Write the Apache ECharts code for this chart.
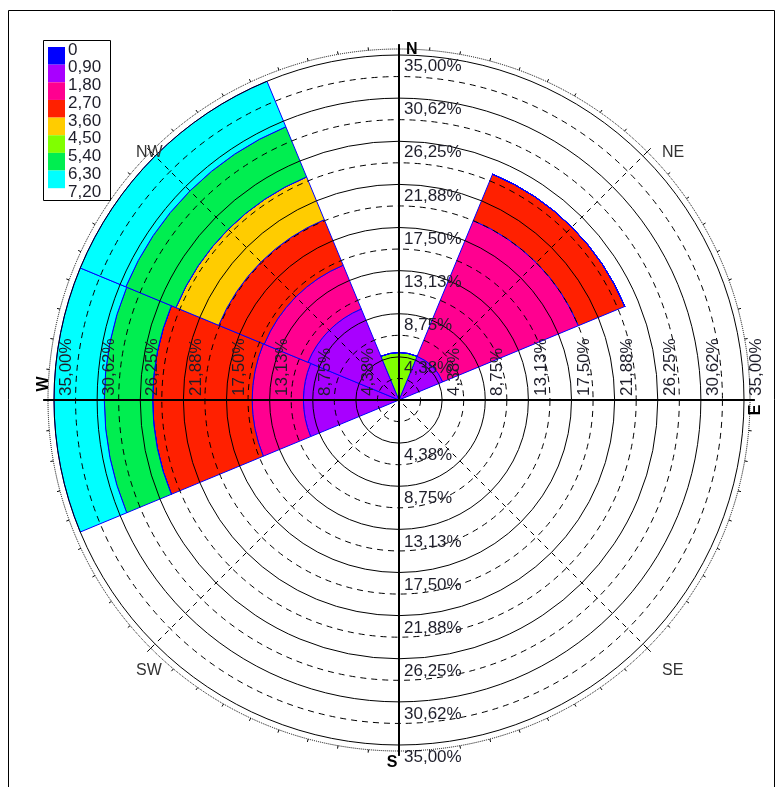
<!DOCTYPE html>
<html><head><meta charset="utf-8">
<script src="https://cdn.jsdelivr.net/npm/echarts@6/dist/echarts.min.js"></script>
<style>html,body{margin:0;padding:0;background:#fff}#c{width:779px;height:787px}</style>
</head><body><div id="c"></div>
<script>
// ---- data ----
const directions = ['N','NE','E','SE','S','SW','W','NW'];
const speedClassLabels = ['0','0,90','1,80','2,70','3,60','4,50','5,40','6,30','7,20'];
const classColors = ['#0000ff','#a800ff','#ff0090','#ff2000','#ffcc00','#80ff00','#00ee50','#00ffff'];
// frequency (%) of each speed class per direction (stacked outward)
const cls_0_090   = [0,   0,    0,0,0,0, 0,    0   ];
const cls_090_180 = [0,   4.8,  0,0,0,0, 9.7,  10.0];
const cls_180_270 = [0,   14.9, 0,0,0,0, 5.2,  4.8 ];
const cls_270_360 = [0,   5.1,  0,0,0,0, 10.1, 5.0 ];
const cls_360_450 = [0,   0,    0,0,0,0, 0,    4.7 ];
const cls_450_540 = [4.8, 0,    0,0,0,0, 0,    0   ];
const cls_540_630 = [0,   0,    0,0,0,0, 4.9,  5.5 ];
const cls_630_720 = [0,   0,    0,0,0,0, 5.1,  5.0 ];
const classData = [cls_0_090, cls_090_180, cls_180_270, cls_270_360, cls_360_450, cls_450_540, cls_540_630, cls_630_720];
const radiusStep = 4.375;
const radiusMax = 35;
const radiusTickLabels = ['4,38%','8,75%','13,13%','17,50%','21,88%','26,25%','30,62%','35,00%'];
const diagonalLabels = ['NE','SE','SW','NW'];
const cardinalLabels = ['N','E','S','W'];

// ---- layout ----
const CX = 399, CY = 400, R = 345;
const chart = echarts.init(document.getElementById('c'));
const FONT = '"Liberation Sans", Arial, sans-serif';

function tickFmt(v){
  const idx = Math.round(v / radiusStep) - 1;
  if (idx < 0 || idx >= radiusTickLabels.length) return '';
  if (Math.abs(v - (idx + 1) * radiusStep) > 0.01) return '';
  return radiusTickLabels[idx];
}
const labelBase = {color:'#1e1e2a', fontSize:17, fontFamily:FONT, formatter:tickFmt, showMinLabel:true, showMaxLabel:true, hideOverlap:false};
const extMax = radiusMax * (R + 10) / R;

function labelAxis(idx, cfg){
  return {polarIndex:idx, type:'value', min:0, max:extMax, interval:radiusStep, z:11,
    axisLine:{show:true, lineStyle:{color:'#000', width:2}},
    axisTick:{show:false}, splitLine:{show:false},
    axisLabel:Object.assign({}, labelBase, cfg)};
}

const series = classData.map((d, i) => ({
  type:'bar', coordinateSystem:'polar', polarIndex:0, stack:'freq',
  name: speedClassLabels[i] + '-' + speedClassLabels[i+1],
  data:d, barCategoryGap:'0%', barGap:'0%', z:2,
  itemStyle:{color:classColors[i], borderColor:'#0000ff', borderWidth:1},
  emphasis:{disabled:true}, animation:false
}));

// legend graphic
const legendEls = [];
legendEls.push({type:'rect', shape:{x:43.5, y:40.5, width:67, height:160}, style:{fill:'#fff', stroke:'#000', lineWidth:1}, z:20});
const boxH = 17.65;
classColors.forEach((c, i) => {
  legendEls.push({type:'rect', shape:{x:48, y:47 + i*boxH, width:17, height:boxH}, style:{fill:c}, z:21});
});
speedClassLabels.forEach((t, i) => {
  legendEls.push({type:'text', x:68, y:50 + i*17.75, style:{text:t, fill:'#1e1e2a', font:'17px ' + FONT, align:'left', verticalAlign:'middle'}, z:21});
});

// direction labels
const dirEls = [];
const diagPos = {NE:[1,-1], SE:[1,1], SW:[-1,1], NW:[-1,-1]};
diagonalLabels.forEach(n => {
  const [sx, sy] = diagPos[n];
  dirEls.push({type:'text', x: CX + sx*263 - (sx<0?0:0), y: CY + sy*259 + 4, style:{text:n, fill:'#333', font:'16px ' + FONT, align:'left', verticalAlign:'top'}, z:21});
});
const cardPos = {
  N:{x:CX+7, y:CY-R-13, rot:0, align:'left', va:'top'},
  S:{x:CX-7, y:CY+R+18, rot:0, align:'center', va:'middle'},
  E:{x:CX+R+12, y:CY+10, rot:Math.PI/2, align:'center', va:'middle'},
  W:{x:CX-R-10, y:CY-16, rot:Math.PI/2, align:'center', va:'middle'}
};
cardinalLabels.forEach(n => {
  const p = cardPos[n];
  dirEls.push({type:'text', x:p.x, y:p.y, rotation:p.rot, style:{text:n, fill:'#000', font:'bold 16px ' + FONT, align:p.align, verticalAlign:p.va}, z:21});
});

const option = {
  backgroundColor:'#fff',
  animation:false,
  polar:[
    {center:[CX,CY], radius:R},
    {center:[CX,CY], radius:R+10},
    {center:[CX,CY], radius:R+10},
    {center:[CX,CY], radius:R+10},
    {center:[CX,CY], radius:R+10},
    {center:[CX,CY], radius:R+6}
  ],
  angleAxis:[
    {polarIndex:0, type:'category', data:directions, startAngle:112.5, clockwise:true, boundaryGap:true,
     axisLine:{show:false}, axisTick:{show:false}, axisLabel:{show:false}, splitLine:{show:false}},
    {polarIndex:1, type:'value', min:0, max:360, startAngle:90, show:false},
    {polarIndex:2, type:'value', min:0, max:360, startAngle:0, show:false},
    {polarIndex:3, type:'value', min:0, max:360, startAngle:270, show:false},
    {polarIndex:4, type:'value', min:0, max:360, startAngle:180, show:false},
    {polarIndex:5, type:'value', min:0, max:360, interval:45, startAngle:90, z:10,
     axisLine:{show:true, lineStyle:{color:'#000', width:1, type:'dotted'}},
     axisTick:{show:true, length:5, lineStyle:{color:'#000', width:1}},
     minorTick:{show:true, splitNumber:9, length:3, lineStyle:{color:'#000', width:1}},
     axisLabel:{show:false},
     splitLine:{show:true, lineStyle:{color:'#000', width:1, type:[5,5]}}}
  ],
  radiusAxis:[
    {polarIndex:0, type:'value', min:0, max:radiusMax, interval:radiusStep, z:10,
     axisLine:{show:false}, axisTick:{show:false}, axisLabel:{show:false},
     splitLine:{show:true, lineStyle:{color:'#000', width:1}},
     minorTick:{show:false, splitNumber:2},
     minorSplitLine:{show:true, lineStyle:{color:'#000', width:1, type:[6,5]}}},
    labelAxis(1, {margin:-5, rotate:0, align:'left', verticalAlign:'top', padding:[3,0,0,0]}),
    labelAxis(2, {margin:4, rotate:90, align:'left', verticalAlign:'top', padding:[4,0,0,0]}),
    labelAxis(3, {margin:5, rotate:0, align:'left', verticalAlign:'top', padding:[4,0,0,0]}),
    labelAxis(4, {margin:-4, rotate:90, align:'left', verticalAlign:'top', padding:[4,0,0,0]}),
    {polarIndex:5, type:'value', min:0, max:1, show:false}
  ],
  series: series,
  graphic:[
    {type:'rect', shape:{x:8.5, y:10.5, width:766, height:800}, style:{fill:'none', stroke:'#000', lineWidth:1}, z:0, silent:true},
    ...legendEls,
    ...dirEls
  ]
};
chart.setOption(option);
</script>
</body></html>
